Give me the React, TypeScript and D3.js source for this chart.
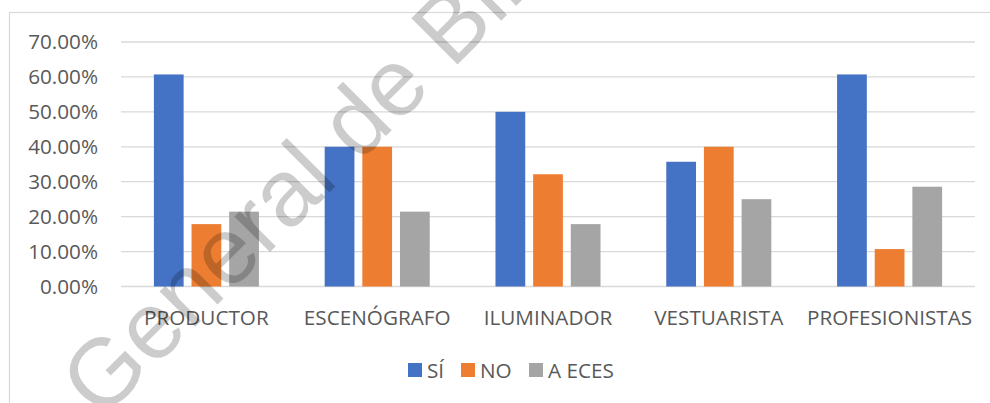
import React, { useRef, useEffect } from 'react';
import * as d3 from 'd3';

const categories = ['PRODUCTOR', 'ESCENÓGRAFO', 'ILUMINADOR', 'VESTUARISTA', 'PROFESIONISTAS'];
const seriesNames = ['SÍ', 'NO', 'A ECES'];
const siValues = [0.6071, 0.4, 0.5, 0.3571, 0.6071];
const noValues = [0.1786, 0.4, 0.3214, 0.4, 0.1071];
const avecesValues = [0.2143, 0.2143, 0.1786, 0.25, 0.2857];
const yTicks = [0, 0.1, 0.2, 0.3, 0.4, 0.5, 0.6, 0.7];
const colors = ['#4472C4', '#ED7D31', '#A5A5A5'];
const watermark = 'General de Bibliotecas';

const App = () => {
    const chart = useRef<SVGSVGElement>(null);

    useEffect(() => {
        const width = 990;
        const height = 403;
        const font = '"Open Sans", sans-serif';
        const fontSize = 20.7;
        const textColor = '#595959';

        const svg = d3.select(chart.current);
        svg.selectAll('*').remove();
        svg.attr('width', width).attr('height', height);

        svg.append('rect')
            .attr('width', width).attr('height', height)
            .attr('fill', '#fff');

        // chart frame (right and bottom edges fall outside the picture)
        svg.append('rect')
            .attr('x', 9.5).attr('y', 12.5)
            .attr('width', 1000).attr('height', 420)
            .attr('fill', 'none')
            .attr('stroke', '#d9d9d9')
            .attr('stroke-width', 1.2);

        const series = [siValues, noValues, avecesValues];

        const x0 = d3.scaleBand()
            .domain(categories)
            .range([121, 975])
            .paddingInner(0.385)
            .paddingOuter(0.1925);

        const x1 = d3.scaleBand()
            .domain(seriesNames)
            .range([0, x0.bandwidth()])
            .paddingInner(0.21);

        const y = d3.scaleLinear()
            .domain([0, 0.7])
            .range([286.5, 42]);

        // gridlines
        svg.append('g')
            .selectAll('line')
            .data(yTicks)
            .enter()
            .append('line')
            .attr('x1', 121).attr('x2', 975)
            .attr('y1', d => y(d)).attr('y2', d => y(d))
            .attr('stroke', '#d9d9d9')
            .attr('stroke-width', 1.3);

        // y labels
        svg.append('g')
            .selectAll('text')
            .data(yTicks)
            .enter()
            .append('text')
            .attr('x', 98)
            .attr('y', d => y(d))
            .attr('dy', '0.36em')
            .attr('text-anchor', 'end')
            .attr('font-family', font)
            .attr('font-size', fontSize)
            .attr('fill', textColor)
            .text(d => d3.format('.2%')(d));

        // bars
        const groups = svg.append('g')
            .selectAll('g')
            .data(categories)
            .enter()
            .append('g')
            .attr('transform', d => `translate(${x0(d)},0)`);

        groups.selectAll('rect')
            .data((c, i) => seriesNames.map((s, k) => ({ s, k, v: series[k][i] })))
            .enter()
            .append('rect')
            .attr('x', d => x1(d.s)!)
            .attr('width', x1.bandwidth())
            .attr('y', d => y(d.v))
            .attr('height', d => y(0) - y(d.v))
            .attr('fill', d => colors[d.k]);

        // category labels
        svg.append('g')
            .selectAll('text')
            .data(categories)
            .enter()
            .append('text')
            .attr('x', d => x0(d)! + x0.bandwidth() / 2)
            .attr('y', 325)
            .attr('text-anchor', 'middle')
            .attr('font-family', font)
            .attr('font-size', fontSize)
            .attr('fill', textColor)
            .text(d => d);

        // legend
        const legendX = [408, 461, 529];
        const legend = svg.append('g')
            .selectAll('g')
            .data(seriesNames)
            .enter()
            .append('g')
            .attr('transform', (d, i) => `translate(${legendX[i]},363)`);

        legend.append('rect')
            .attr('width', 14).attr('height', 14)
            .attr('fill', (d, i) => colors[i]);

        legend.append('text')
            .attr('x', 19).attr('y', 15)
            .attr('font-family', font)
            .attr('font-size', fontSize)
            .attr('fill', textColor)
            .text(d => d);

        // watermark
        svg.append('text')
            .attr('transform', 'translate(101,421) rotate(-45)')
            .attr('font-family', '"Liberation Sans", Arial, sans-serif')
            .attr('font-size', 95)
            .attr('fill', '#000')
            .attr('fill-opacity', 0.2)
            .text(watermark);
    }, []);

    return (
        <svg ref={chart} style={{ position: 'absolute', left: 0, top: 0, display: 'block' }}></svg>
    );
};

export default App;
